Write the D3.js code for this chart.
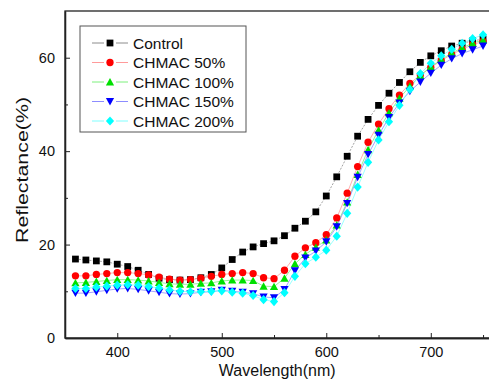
<html>
    <head>
        <script src="https://d3js.org/d3.v7.min.js"></script>
        <title>Reflectance</title>
        <style>
            body { margin: 0; background: #fff; }
            text { font-family: "Liberation Sans", Arial, sans-serif; fill: #111; }
        </style>
    </head>
    <body>
        <div id="chart"></div>

        <script>
            const wavelengths = [360, 370, 380, 390, 400, 410, 420, 430, 440, 450,
                                 460, 470, 480, 490, 500, 510, 520, 530, 540, 550,
                                 560, 570, 580, 590, 600, 610, 620, 630, 640, 650,
                                 660, 670, 680, 690, 700, 710, 720, 730, 740, 750];

            const control = [16.9, 16.7, 16.5, 16.3, 15.8, 15.3, 14.5, 13.6, 12.8, 12.5,
                             12.4, 12.5, 12.9, 13.6, 15.0, 16.8, 18.4, 19.5, 20.2, 20.8,
                             21.9, 23.5, 25.0, 27.0, 30.4, 34.5, 38.9, 43.2, 46.8, 49.8,
                             52.4, 54.7, 57.0, 59.0, 60.4, 61.5, 62.5, 63.1, 63.6, 64.0];

            const chmac50 = [13.3, 13.3, 13.6, 13.8, 14.0, 14.0, 13.8, 13.5, 13.0, 12.6,
                             12.4, 12.5, 12.8, 13.2, 13.6, 13.8, 14.0, 13.8, 12.9, 12.7,
                             14.5, 17.5, 19.3, 20.4, 22.1, 25.7, 31.0, 36.7, 41.9, 45.8,
                             49.1, 52.0, 54.5, 56.3, 57.9, 59.4, 60.7, 61.8, 62.8, 63.5];

            const chmac100 = [11.8, 11.9, 12.1, 12.3, 12.5, 12.5, 12.4, 12.2, 11.9, 11.6,
                              11.5, 11.5, 11.7, 11.8, 12.2, 12.4, 12.4, 12.3, 11.1, 11.0,
                              12.8, 15.9, 17.9, 19.4, 21.0, 24.2, 29.1, 35.0, 40.3, 44.5,
                              48.2, 51.3, 53.9, 56.2, 58.0, 59.6, 61.0, 62.1, 63.1, 63.8];

            const chmac150 = [9.6, 9.6, 9.9, 10.2, 10.5, 10.6, 10.4, 10.1, 9.8, 9.5,
                              9.4, 9.5, 9.8, 9.9, 10.2, 10.0, 9.8, 9.5, 8.8, 8.6,
                              10.4, 14.4, 17.1, 18.6, 20.6, 23.8, 28.8, 34.4, 39.3, 43.4,
                              47.2, 50.3, 52.8, 54.8, 56.7, 58.4, 59.8, 60.9, 61.7, 62.5];

            const chmac200 = [10.6, 10.6, 10.9, 11.1, 11.3, 11.4, 11.3, 11.0, 10.7, 10.3,
                              10.0, 9.9, 9.9, 10.0, 10.1, 9.8, 9.6, 9.1, 8.2, 7.8,
                              9.7, 13.2, 15.9, 17.3, 18.8, 21.8, 26.7, 32.3, 37.6, 42.4,
                              46.3, 49.8, 53.2, 56.6, 58.8, 60.4, 61.8, 63.1, 64.1, 64.9];

            const seriesNames = ["Control", "CHMAC 50%", "CHMAC 100%", "CHMAC 150%", "CHMAC 200%"];
            const xMajorTicks = [400, 500, 600, 700];
            const xMinorTicks = [450, 550, 650, 750];
            const yMajorTicks = [0, 20, 40, 60];
            const yMinorTicks = [10, 30, 50];

            const w = 489;
            const h = 391;
            const plotL = 65, plotR = 493.5, plotT = 11, plotB = 338;

            // marker shapes
            const diamond = {
                draw(ctx, size) {
                    const a = Math.sqrt(size) * 0.62, b = a * 1.12;
                    ctx.moveTo(0, -b); ctx.lineTo(a, 0); ctx.lineTo(0, b); ctx.lineTo(-a, 0); ctx.closePath();
                }
            };
            const triDown = {
                draw(ctx, size) {
                    const s = Math.sqrt(size) * 0.62;
                    ctx.moveTo(-s, -s * 0.85); ctx.lineTo(s, -s * 0.85); ctx.lineTo(0, s * 0.95); ctx.closePath();
                }
            };
            const triUp = {
                draw(ctx, size) {
                    const s = Math.sqrt(size) * 0.62;
                    ctx.moveTo(-s, s * 0.85); ctx.lineTo(s, s * 0.85); ctx.lineTo(0, -s * 0.95); ctx.closePath();
                }
            };

            const series = [
                { name: seriesNames[0], values: control,  color: "#000000", line: "#8c8c8c", shape: d3.symbolSquare, size: 46 },
                { name: seriesNames[1], values: chmac50,  color: "#ff0000", line: "#ff9a9a", shape: d3.symbolCircle, size: 42 },
                { name: seriesNames[2], values: chmac100, color: "#00e000", line: "#7cf07c", shape: triUp, size: 44 },
                { name: seriesNames[3], values: chmac150, color: "#0000ff", line: "#8c8cff", shape: triDown, size: 44 },
                { name: seriesNames[4], values: chmac200, color: "#00ffff", line: "#80ffff", shape: diamond, size: 44 }
            ];

            const xScale = d3.scaleLinear().domain([350, 760]).range([plotL, plotR]);
            const yScale = d3.scaleLinear().domain([0, 70]).range([plotB, plotT]);

            const svg = d3.select("#chart").append("svg")
                .attr("width", w)
                .attr("height", h);

            // lines and markers
            const lineGen = d3.line()
                .x((d) => xScale(d[0]))
                .y((d) => yScale(d[1]));

            series.forEach((s) => {
                const pts = wavelengths.map((wl, i) => [wl, s.values[i]]);
                svg.append("path")
                    .attr("d", lineGen(pts))
                    .attr("fill", "none")
                    .attr("stroke", s.line)
                    .attr("stroke-width", 0.8)
                    .attr("stroke-dasharray", s.name == "Control" ? "2,1.5" : null);
            });

            series.forEach((s) => {
                svg.append("g").selectAll("path")
                    .data(wavelengths.map((wl, i) => [wl, s.values[i]]))
                    .enter()
                    .append("path")
                    .attr("d", d3.symbol().type(s.shape).size(s.size))
                    .attr("transform", (d) => "translate(" + xScale(d[0]) + "," + yScale(d[1]) + ")")
                    .attr("fill", s.color);
            });

            // frame
            svg.append("rect")
                .attr("x", plotL)
                .attr("y", plotT)
                .attr("width", plotR - plotL)
                .attr("height", plotB - plotT)
                .attr("fill", "none")
                .attr("stroke", "#222")
                .attr("stroke-width", 1.3);

            // axes with inward ticks
            svg.append("g")
                .attr("transform", "translate(0," + plotB + ")")
                .call(d3.axisBottom(xScale).tickValues(xMajorTicks).tickSizeInner(-5).tickSizeOuter(0).tickPadding(9));
            svg.append("g")
                .attr("transform", "translate(0," + plotB + ")")
                .call(d3.axisBottom(xScale).tickValues(xMinorTicks).tickSizeInner(-3).tickSizeOuter(0).tickFormat(""));

            svg.append("g")
                .attr("transform", "translate(" + plotL + ",0)")
                .call(d3.axisLeft(yScale).tickValues(yMajorTicks).tickSizeInner(-5).tickSizeOuter(0).tickPadding(10));
            svg.append("g")
                .attr("transform", "translate(" + plotL + ",0)")
                .call(d3.axisLeft(yScale).tickValues(yMinorTicks).tickSizeInner(-3).tickSizeOuter(0).tickFormat(""));

            svg.selectAll(".domain").attr("stroke", "#222").attr("stroke-width", 1.3);
            svg.selectAll(".tick line").attr("stroke", "#222");
            svg.selectAll(".tick text")
                .attr("font-size", "14.5px")
                .attr("font-family", "Liberation Sans, Arial, sans-serif")
                .attr("fill", "#111");

            // axis titles
            svg.append("text")
                .attr("x", (plotL + plotR) / 2 - 2)
                .attr("y", 376)
                .attr("text-anchor", "middle")
                .attr("font-size", "16px")
                .text("Wavelength(nm)");

            svg.append("text")
                .attr("transform", "translate(28,170) rotate(-90)")
                .attr("text-anchor", "middle")
                .attr("font-size", "16.5px")
                .attr("textLength", 146)
                .attr("lengthAdjust", "spacingAndGlyphs")
                .text("Reflectance(%)");

            // legend
            const legend = svg.append("g");
            legend.append("rect")
                .attr("x", 80)
                .attr("y", 26)
                .attr("width", 166)
                .attr("height", 106)
                .attr("fill", "#fff")
                .attr("stroke", "#555")
                .attr("stroke-width", 1);

            const items = legend.selectAll("g.item")
                .data(series)
                .enter()
                .append("g")
                .attr("class", "item")
                .attr("transform", (d, i) => "translate(0," + (43 + i * 19.5) + ")");

            items.append("line")
                .attr("x1", 92).attr("x2", 104).attr("y1", 0).attr("y2", 0)
                .attr("stroke", (d) => d.line).attr("stroke-width", 1);
            items.append("line")
                .attr("x1", 116).attr("x2", 128).attr("y1", 0).attr("y2", 0)
                .attr("stroke", (d) => d.line).attr("stroke-width", 1);
            items.append("path")
                .attr("d", (d) => d3.symbol().type(d.shape).size(d.size)())
                .attr("transform", "translate(110,0)")
                .attr("fill", (d) => d.color);
            items.append("text")
                .attr("x", 133)
                .attr("y", 0)
                .attr("dy", "0.36em")
                .attr("font-size", "15.5px")
                .text((d) => d.name);
        </script>
    </body>
</html>
